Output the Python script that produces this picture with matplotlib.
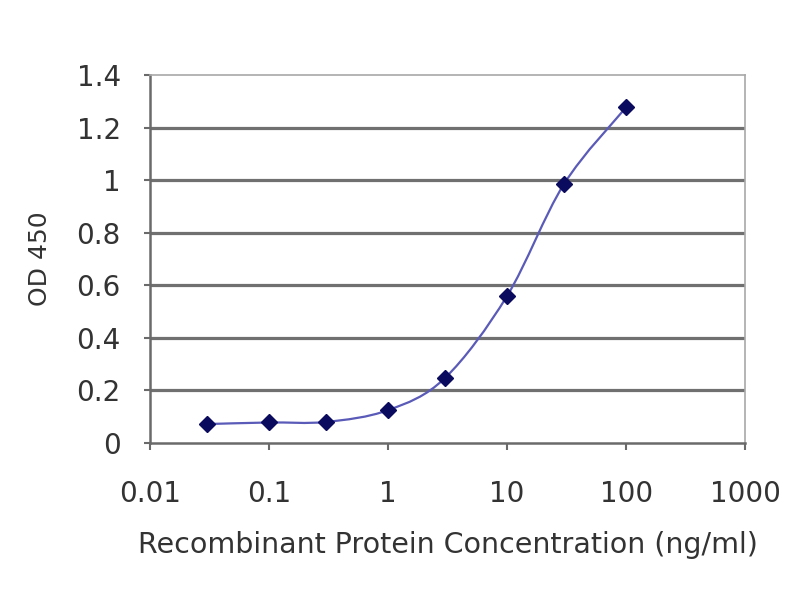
import matplotlib
matplotlib.use("Agg")
import matplotlib.pyplot as plt
from matplotlib.path import Path
from matplotlib.patches import PathPatch
from matplotlib.ticker import FixedLocator, FixedFormatter
import numpy as np

plt.rcParams['font.family'] = ['DejaVu Sans']

# data
conc = [0.03, 0.1, 0.3, 1, 3, 10, 30, 100]
od450 = [0.072, 0.078, 0.08, 0.125, 0.247, 0.56, 0.985, 1.278]
xticks = [0.01, 0.1, 1, 10, 100, 1000]
xlabels = ["0.01", "0.1", "1", "10", "100", "1000"]
yticks = [0, 0.2, 0.4, 0.6, 0.8, 1.0, 1.2, 1.4]
ylabels = ["0", "0.2", "0.4", "0.6", "0.8", "1", "1.2", "1.4"]


def smooth_path(xs, ys):
    # excel style smoothed line: cardinal bezier in log-x space
    lx = np.log10(xs)
    ys = np.asarray(ys, float)
    n = len(lx)
    verts = [(xs[0], ys[0])]
    codes = [Path.MOVETO]
    for i in range(n - 1):
        p0 = (lx[max(i - 1, 0)], ys[max(i - 1, 0)])
        p1 = (lx[i], ys[i])
        p2 = (lx[i + 1], ys[i + 1])
        p3 = (lx[min(i + 2, n - 1)], ys[min(i + 2, n - 1)])
        c1 = (p1[0] + (p2[0] - p0[0]) / 6, p1[1] + (p2[1] - p0[1]) / 6)
        c2 = (p2[0] - (p3[0] - p1[0]) / 6, p2[1] - (p3[1] - p1[1]) / 6)
        verts += [(10 ** c1[0], c1[1]), (10 ** c2[0], c2[1]), (10 ** p2[0], p2[1])]
        codes += [Path.CURVE4] * 3
    return Path(verts, codes)


fig = plt.figure(figsize=(8, 6), dpi=100)
ax = fig.add_axes([0.1875, 0.2617, 0.744, 0.613])
ax.set_xscale('log')
ax.set_xlim(0.01, 1000)
ax.set_ylim(0, 1.4)

for y in yticks[1:-1]:
    ax.axhline(y, color='#707070', lw=2.3, zorder=1)

# smoothed curve, path vertices are data values transformed by the axes
ax.add_patch(PathPatch(smooth_path(conc, od450), transform=ax.transData,
                       fill=False, edgecolor='#5a5ab8', lw=1.6, zorder=2))
ax.plot(conc, od450, linestyle='none', marker='D', ms=8,
        color='#0a0a5e', zorder=3)

ax.xaxis.set_major_locator(FixedLocator(xticks))
ax.xaxis.set_major_formatter(FixedFormatter(xlabels))
ax.xaxis.set_minor_locator(FixedLocator([]))
ax.set_yticks(yticks)
ax.set_yticklabels(ylabels)

for side in ['left', 'bottom']:
    ax.spines[side].set_color('#6a6a6a')
    ax.spines[side].set_linewidth(1.8)
for side in ['top', 'right']:
    ax.spines[side].set_color('#a8a8a8')
    ax.spines[side].set_linewidth(1.2)

ax.tick_params(axis='x', labelsize=20, colors='#6a6a6a', labelcolor='#333333',
               length=5, width=1.5, pad=22)
ax.tick_params(axis='y', labelsize=20, colors='#6a6a6a', labelcolor='#333333',
               length=4, width=1.5, pad=17)

ax.set_xlabel("Recombinant Protein Concentration (ng/ml)", fontsize=20.5,
              color='#333333', labelpad=16)
ax.set_ylabel("OD 450", fontsize=18, color='#333333', labelpad=18)

fig.savefig("out.png", dpi=100)
